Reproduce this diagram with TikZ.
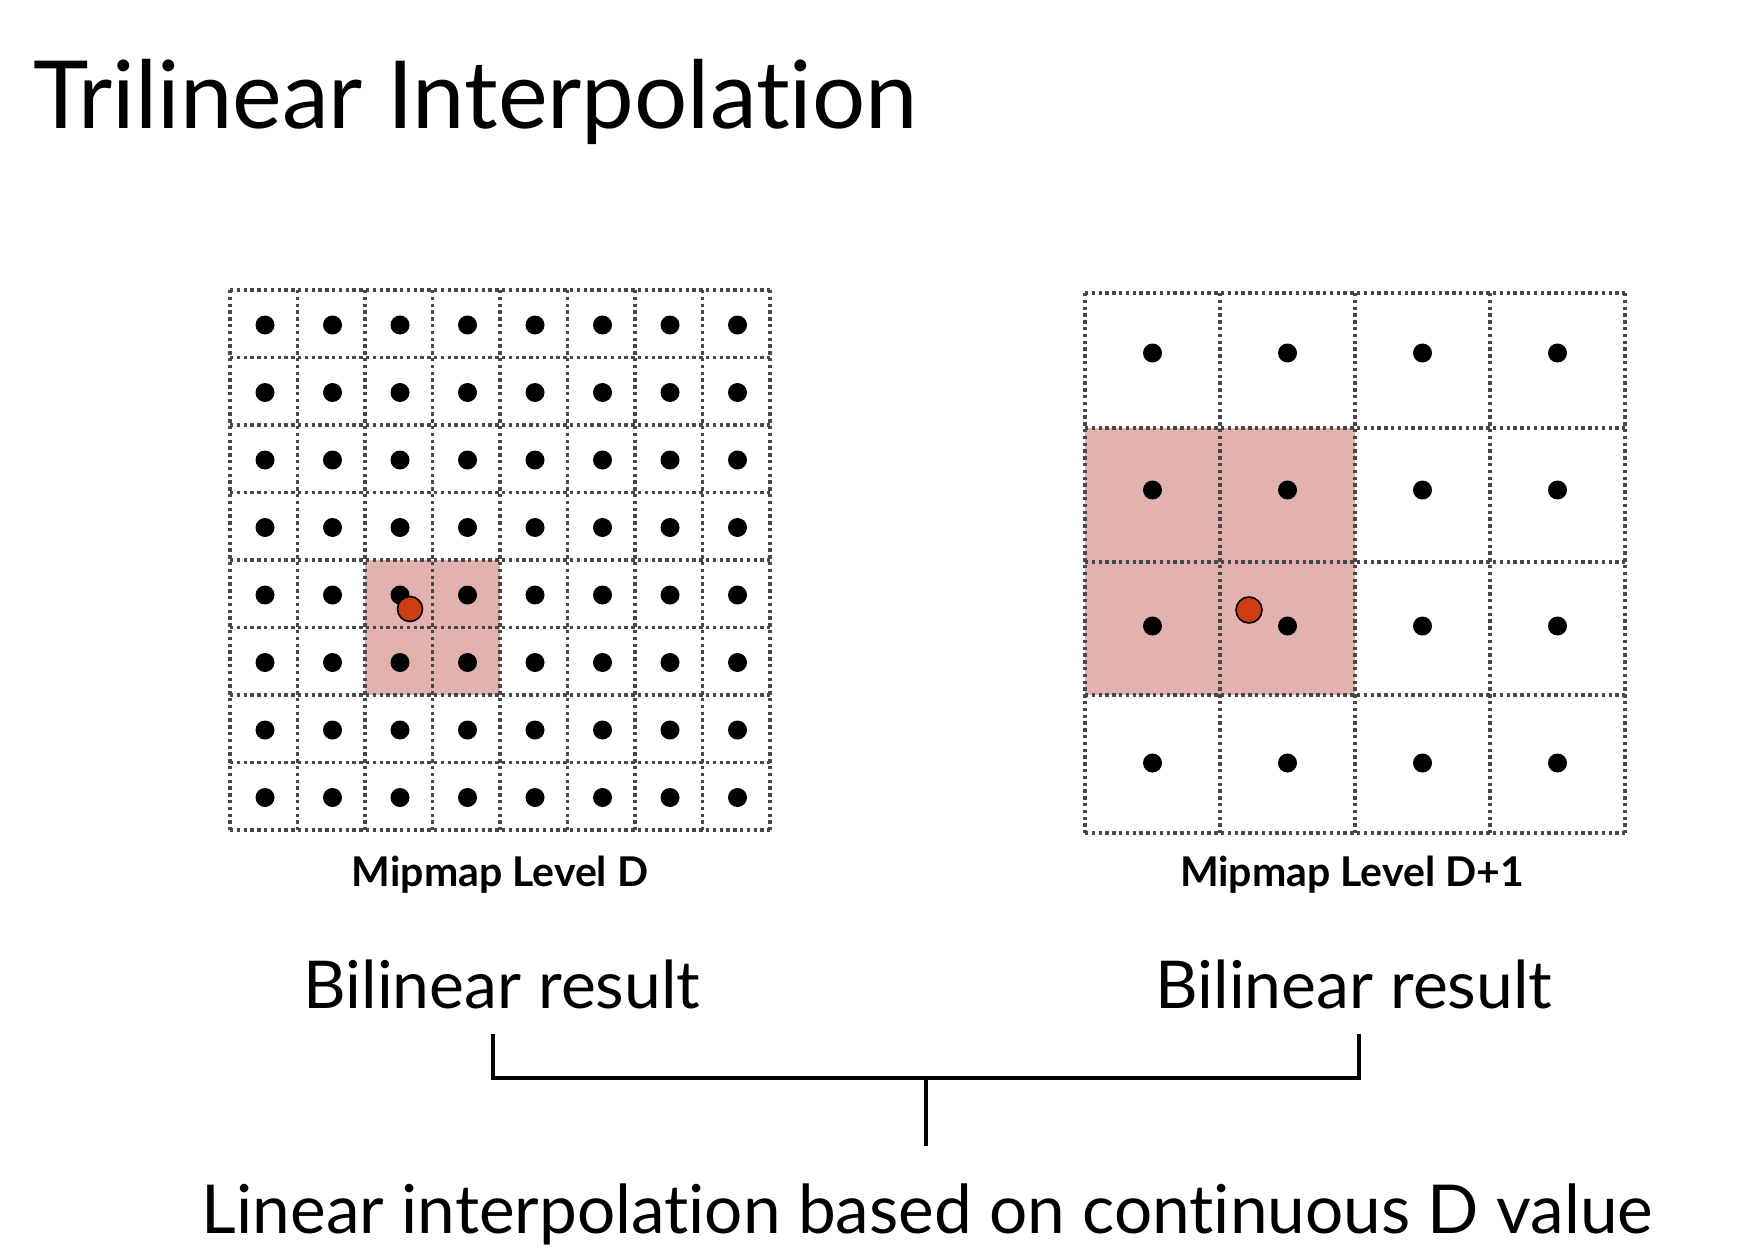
\documentclass[tikz,border=0pt]{standalone}
\usepackage{fontspec}
\setmainfont{Lato}[Ligatures=NoCommon]

\definecolor{hilite}{RGB}{226,178,175}
\definecolor{samplered}{RGB}{204,61,20}
\definecolor{gridgray}{RGB}{72,72,72}

\begin{document}
\begin{tikzpicture}[x=1pt,y=-1pt,
        gridline/.style={gridgray,line width=3.3pt,dash pattern=on 3.3pt off 3.5pt},
        texel/.style={fill=black},
        sample/.style={fill=samplered,draw=black,line width=1.6pt},
        bracket/.style={line width=3.2pt},
        bigtext/.style={inner sep=0pt,font=\fontsize{66}{72}\selectfont},
        lvltext/.style={inner sep=0pt,font=\bfseries\fontsize{41}{44}\selectfont}]
                \useasboundingbox (0,0) rectangle (1746,1260);

                \node[anchor=base west,inner sep=0pt,font=\fontsize{94}{100}\selectfont] (title) at (33,129) {Trilinear Interpolation};

                % level D, 8x8 texels
                \fill[hilite] (365,560) rectangle (500,695);
                \foreach \i in {0,...,8} {
                    \draw[gridline] (230+67.5*\i,290) -- (230+67.5*\i,830);
                    \draw[gridline] (230,290+67.5*\i) -- (770,290+67.5*\i);
                }
                \foreach \i in {0,...,7}
                    \foreach \j in {0,...,7}
                        \fill[texel] (265+67.5*\i,325+67.5*\j) circle[radius=9.5pt];
                \draw[sample] (410,609) circle[radius=12.5pt];

                % level D+1, 4x4 texels
                \fill[hilite] (1085,428) rectangle (1355,695);
                \foreach \i in {0,...,4} {
                    \draw[gridline] (1085+135*\i,293) -- (1085+135*\i,833);
                }
                \foreach \y in {293,428,562,695,833}
                    \draw[gridline] (1085,\y) -- (1625,\y);
                \foreach \i in {0,...,3}
                    \foreach \y in {353,490,626,763}
                        \fill[texel] (1152.5+135*\i,\y) circle[radius=9.5pt];
                \draw[sample] (1249,610) circle[radius=13pt];

                \node[lvltext,anchor=base] (lvlD) at (500,886) {Mipmap Level D};
                \node[lvltext,anchor=base] (lvlE) at (1352,886) {Mipmap Level D+1};

                \node[bigtext,anchor=base] (resL) at (502,1008) {Bilinear result};
                \node[bigtext,anchor=base] (resR) at (1354,1008) {Bilinear result};
                \node[bigtext,anchor=base,font=\fontsize{67.5}{72}\selectfont] (interp) at (927.5,1233) {Linear interpolation based on continuous D value};

                \coordinate (brL) at (493,1034);
                \coordinate (brR) at (1359,1034);
                \coordinate (brM) at (926,1078);
                \coordinate (brS) at (926,1146);
                \draw[bracket] (brL) |- (brM) -| (brR);
                \draw[bracket] (brM) -- (brS);
            \end{tikzpicture}
\end{document}
